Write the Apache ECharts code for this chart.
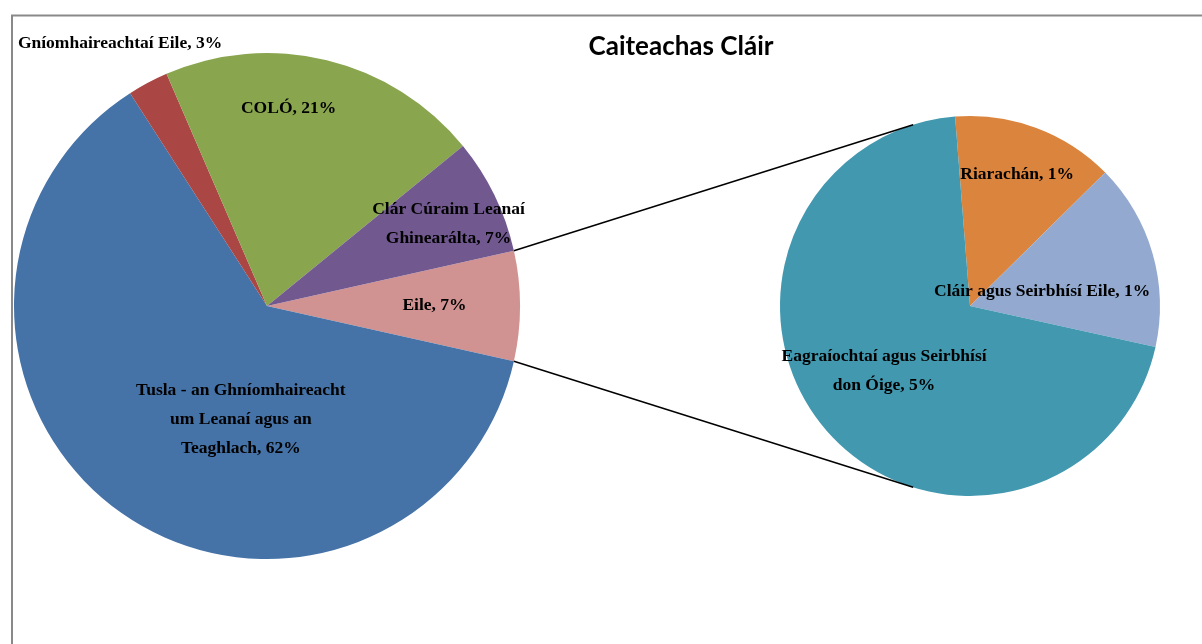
<!DOCTYPE html>
<html>
<head>
<meta charset="utf-8">
<script src="https://cdn.jsdelivr.net/npm/echarts@6/dist/echarts.min.js"></script>
<style>
  html, body { margin: 0; padding: 0; background: #fff; }
  #chart { width: 1202px; height: 644px; }
</style>
</head>
<body>
<div id="chart"></div>
<script>
// main pie (percent of total); 'Eile' is split out in the small pie
var mainNames = ['Eile', 'Tusla - an Ghníomhaireacht um Leanaí agus an Teaghlach', 'Gníomhaireachtaí Eile', 'COLÓ', 'Clár Cúraim Leanaí Ghinearálta']
var mainLabels = ['Eile', 'Tusla - an Ghníomhaireacht\num Leanaí agus an\nTeaghlach', 'Gníomhaireachtaí Eile', 'COLÓ', 'Clár Cúraim Leanaí\nGhinearálta']
var mainValues = [7.0, 62.4, 2.6, 20.6, 7.4]

var subNames = ['Riarachán', 'Cláir agus Seirbhísí Eile', 'Eagraíochtaí agus Seirbhísí don Óige']
var subLabels = ['Riarachán', 'Cláir agus Seirbhísí Eile', 'Eagraíochtaí agus Seirbhísí\ndon Óige']
var subValues = [0.97, 1.11, 4.92]

var mainColors = ['#D19392', '#4572A7', '#AA4643', '#89A54E', '#71588F']
var subColors = ['#DB843D', '#93A9CF', '#4198AF']

// label nudges from the default 'inside' spot
var mainOffsets = [[38, -1], [48, 7], [-86, -148], [-9, -72], [65, -25]]
var subOffsets = [[13, -40], [-22, 13], [-12, 1]]

var mainCenter = [267, 306], mainR = 253
var subCenter = [970, 306], subR = 190

var chart = echarts.init(document.getElementById('chart'))

function sum(arr) {
  return arr.reduce(function(a, b) { return a + b }, 0)
}

var eileHalf = 360 * mainValues[0] / sum(mainValues) / 2

function pt(c, r, deg) {
  var a = deg * Math.PI / 180
  return [c[0] + r * Math.cos(a), c[1] - r * Math.sin(a)]
}

var labelFont = {
  fontFamily: '"Liberation Serif", "Times New Roman", serif',
  fontWeight: 'bold',
  fontSize: 17.5,
  lineHeight: 29,
  color: '#000'
}

function buildData(names, values, colors) {
  return names.map(function(n, i) {
    return { name: n, value: values[i], itemStyle: { color: colors[i] }}
  })
}

var topA = pt(mainCenter, mainR, eileHalf)
var botA = pt(mainCenter, mainR, -eileHalf)
var topB = pt(subCenter, subR, 107.4)
var botB = pt(subCenter, subR, -107.4)

var option = {
  backgroundColor: '#fff',
  animation: false,
  title: {
    text: 'Caiteachas Cláir',
    left: 676,
    top: 29,
    textAlign: 'center',
    textStyle: {
      fontFamily: 'Lato, "Open Sans", sans-serif',
      fontWeight: 'bold',
      fontSize: 26,
      color: '#000'
    }
  },
  graphic: [
    {
      type: 'rect',
      shape: { x: 12, y: 15.5, width: 1300, height: 800 },
      style: { fill: 'none', stroke: '#898989', lineWidth: 2 },
      z: 0
    },
    {
      type: 'line',
      shape: { x1: topA[0], y1: topA[1], x2: topB[0], y2: topB[1] },
      style: { stroke: '#000', lineWidth: 1.5 },
      z: 10
    },
    {
      type: 'line',
      shape: { x1: botA[0], y1: botA[1], x2: botB[0], y2: botB[1] },
      style: { stroke: '#000', lineWidth: 1.5 },
      z: 10
    }
  ],
  series: [
    {
      type: 'pie',
      center: mainCenter,
      radius: mainR,
      startAngle: eileHalf,
      clockwise: true,
      data: buildData(mainNames, mainValues, mainColors),
      itemStyle: { borderWidth: 0 },
      label: Object.assign({
        position: 'inside',
        formatter: function(p) {
          return mainLabels[p.dataIndex] + ', ' + Math.round(p.value) + '%'
        }
      }, labelFont),
      labelLine: { show: false },
      labelLayout: function(p) {
        return { dx: mainOffsets[p.dataIndex][0], dy: mainOffsets[p.dataIndex][1] }
      },
      emphasis: { disabled: true }
    },
    {
      type: 'pie',
      center: subCenter,
      radius: subR,
      startAngle: 94.5,
      clockwise: true,
      data: buildData(subNames, subValues, subColors),
      itemStyle: { borderWidth: 0 },
      label: Object.assign({
        position: 'inside',
        formatter: function(p) {
          return subLabels[p.dataIndex] + ', ' + Math.round(p.value) + '%'
        }
      }, labelFont),
      labelLine: { show: false },
      labelLayout: function(p) {
        return { dx: subOffsets[p.dataIndex][0], dy: subOffsets[p.dataIndex][1] }
      },
      emphasis: { disabled: true }
    }
  ]
}

chart.setOption(option)
</script>
</body>
</html>
